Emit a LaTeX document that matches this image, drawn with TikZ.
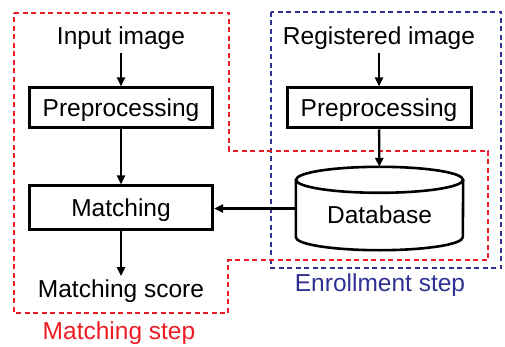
\documentclass[tikz,border=0pt]{standalone}
\usepackage{fontspec}
\setmainfont{Liberation Sans}
\usetikzlibrary{arrows.meta, positioning}
\definecolor{matchred}{RGB}{237,28,36}
\definecolor{enrollblue}{RGB}{46,49,146}

\begin{document}
\begin{tikzpicture}[x=1pt, y=-1pt,
  every node/.style={font=\fontsize{24.5}{28}\selectfont},
  box/.style={draw, line width=3pt, minimum width=183pt, minimum height=40pt, inner sep=0pt,
    text height=18pt, text depth=0pt},
  flow/.style={-{Triangle[length=9pt,width=8pt]}, line width=2.3pt},
  region/.style={line width=2pt, dash pattern=on 5pt off 3.5pt}]
  \useasboundingbox (0,0) rectangle (505,347);
  % the two steps
  \draw[region, enrollblue] (271,12) rectangle (501,268);
  \draw[region, matchred] (14,13) -| (229,151) -| (488,260) -| (228,313) -- (14,313) -- cycle;
  \node[text=matchred] (mstep) at (119,333) {Matching step};
  \node[text=enrollblue] (estep) at (380,285) {Enrollment step};
  % matching side
  \node (inimg) at (121,38) {Input image};
  \node[box] (pre1) at (121,108) {Preprocessing};
  \node[box, minimum height=43pt] (match) at (121,207.5) {Matching};
  \node (score) at (121,291) {Matching score};
  % enrollment side
  \node (regimg) at (379,38) {Registered image};
  \node[box, minimum width=184pt] (pre2) at (379,108) {Preprocessing};
  \node[minimum width=167pt, minimum height=83pt, inner sep=0pt] (db) at (379.5,208.5) {};
  \draw[line width=2.6pt] ([yshift=-13pt]db.north) ellipse [x radius=83.5pt, y radius=13pt];
  \draw[line width=2.6pt] ([yshift=-13pt]db.north west) -- ([yshift=13pt]db.south west)
    arc[start angle=180, end angle=360, x radius=83.5pt, y radius=13pt] -- ([yshift=-13pt]db.north east);
  \node (dbtext) at (379.5,215) {Database};
  % arrows
  \draw[flow] (inimg) -- (pre1);
  \draw[flow] (pre1) -- (match);
  \draw[flow] (match) -- (score);
  \draw[flow] (regimg) -- (pre2);
  \draw[flow] (pre2) -- (db);
  \draw[flow] (db.west) -- (db.west -| match.east);
\end{tikzpicture}
\end{document}
